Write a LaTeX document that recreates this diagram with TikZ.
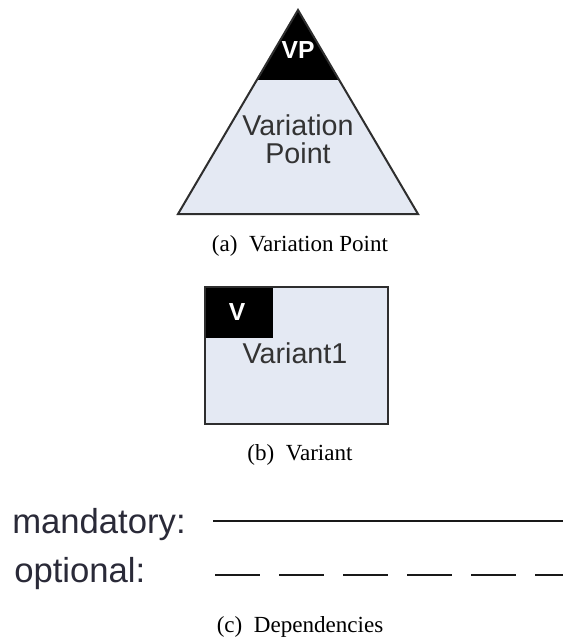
\documentclass[tikz,border=0pt]{standalone}
\usepackage{fontspec}
\setmainfont{Liberation Serif}
\newfontfamily\diagfont{Liberation Sans}
\definecolor{boxfill}{HTML}{E4E9F3}
\definecolor{edgegray}{HTML}{2E2E2E}
\definecolor{labelgray}{HTML}{333333}
\definecolor{deptext}{HTML}{2A2A38}
\tikzset{
  shapeedge/.style={draw=edgegray, line width=1.5pt, line join=miter},
  blackcap/.style={fill=black, draw=none},
  tagtext/.style={text=white, font=\diagfont\bfseries\fontsize{18.5}{20}\selectfont, anchor=base, inner sep=0pt},
  bodytext/.style={text=labelgray, font=\diagfont\fontsize{21.5}{21}\selectfont, anchor=base, inner sep=0pt},
  captiontext/.style={text=black, font=\fontsize{17.3}{20}\selectfont, anchor=base, inner sep=0pt},
  deplabel/.style={text=deptext, font=\diagfont\fontsize{26}{28}\selectfont, anchor=base west, inner sep=0pt},
  depline/.style={draw=black!90, line width=1.9pt},
}
\begin{document}
\begin{tikzpicture}[x=0.75pt, y=-0.75pt]
  \useasboundingbox (0,0) rectangle (563,642);

  % (a) variation point: triangle with a black tip
  \coordinate (apex) at (298,10);
  \coordinate (baseL) at (178,214);
  \coordinate (baseR) at (418,214);
  \fill[boxfill] (apex) -- (baseL) -- (baseR) -- cycle;
  \fill[blackcap] (apex) -- (257.5,80) -- (338.5,80) -- cycle;
  \draw[shapeedge] (apex) -- (baseL) -- (baseR) -- cycle;
  \node[tagtext] (vptag) at (298,59) {VP};
  \node[bodytext] (vpname1) at (298,135) {Variation};
  \node[bodytext] (vpname2) at (298,163) {Point};
  \node[captiontext] (capa) at (300,251) {(a)\enspace Variation Point};

  % (b) variant: box with a black corner tag
  \fill[boxfill] (205,287) rectangle (388,424);
  \fill[blackcap] (205,287) rectangle (273,338);
  \draw[shapeedge] (205,287) rectangle (388,424);
  \node[tagtext] (vtag) at (237,320) {V};
  \node[bodytext] (vname) at (295,363) {Variant1};
  \node[captiontext] (capb) at (300,460) {(b)\enspace Variant};

  % (c) dependency line styles
  \node[deplabel] (mand) at (12,533) {mandatory:};
  \node[deplabel] (opt) at (14,582) {optional:};
  \coordinate (mandA) at (213,521);
  \coordinate (mandB) at (563,521);
  \coordinate (optA) at (215,575);
  \coordinate (optB) at (563,575);
  \draw[depline] (mandA) -- (mandB);
  \draw[depline, dash pattern=on 33.5pt off 14.5pt] (optA) -- (optB);
  \node[captiontext] (capc) at (300,632) {(c)\enspace Dependencies};
\end{tikzpicture}
\end{document}
